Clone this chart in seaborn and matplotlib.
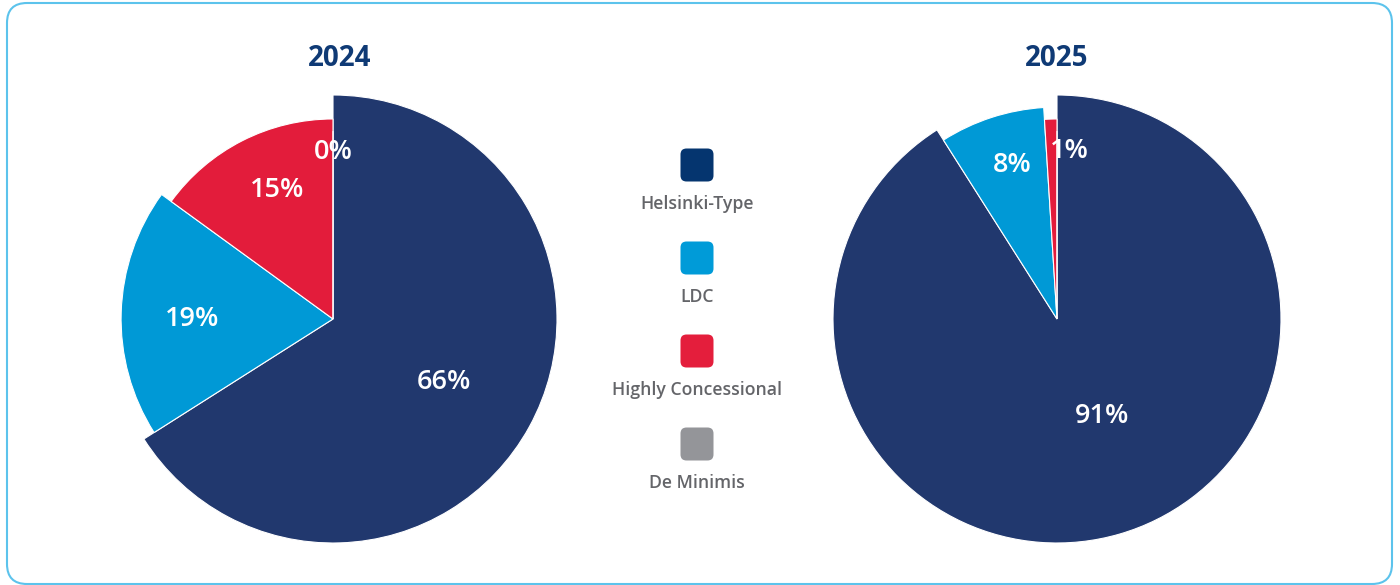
import matplotlib
matplotlib.use("Agg")
import numpy as np
import matplotlib.pyplot as plt
from matplotlib.patches import FancyBboxPatch
import seaborn as sns

# ---- data -------------------------------------------------------------
categories = ["Helsinki-Type", "LDC", "Highly Concessional", "De Minimis"]
years = ["2024", "2025"]
share_2024 = [66, 19, 15, 0]
share_2025 = [91, 8, 1, None]

# ---- style --------------------------------------------------------------
sns.set_theme(style="white")
plt.rcParams["font.family"] = ["Open Sans", "DejaVu Sans"]

slice_colors = ["#21386e", "#0099d6", "#e31c3b", "#939598"]
legend_colors = ["#05356f", "#009bd8", "#e41e3c", "#949599"]
title_color = "#0f3a75"
legend_text = "#646569"
frame_color = "#5cc3ec"

W, H = 1400, 585
R = 224                              # outer radius of the largest slice (px)
radius_steps = [1.0, 0.946, 0.893, 0.839]   # each later slice is drawn a bit shorter
pie_centers = [(333, 319), (1057, 319)]
title_x = [340, 1057]
# label placement: distance (fraction of R) and angular nudge (deg) per slice
label_dist = [[0.565, 0.63, 0.635, 0.755], [0.47, 0.725, 0.76, 0.75]]
label_nudge = [[0, -1, 4, 0], [-9, 2, 6, 0]]

fig = plt.figure(figsize=(14, 5.85), dpi=100)
ax = fig.add_axes([0, 0, 1, 1])


def yy(y_px):
    return H - y_px


for k, (year, shares) in enumerate(zip(years, [share_2024, share_2025])):
    cx, cy = pie_centers[k]
    vals = [0 if v is None else v for v in shares]
    wedges, _ = ax.pie(
        vals,
        colors=slice_colors,
        startangle=90,
        counterclock=False,
        center=(cx, yy(cy)),
        radius=R,
        wedgeprops=dict(edgecolor="white", linewidth=0.8),
    )
    for i, w in enumerate(wedges):
        w.set_radius(R * radius_steps[i])
        if shares[i] is None:
            continue
        mid = np.deg2rad((w.theta1 + w.theta2) / 2 - label_nudge[k][i])
        d = label_dist[k][i] * R
        ax.text(cx + d * np.cos(mid), yy(cy) + d * np.sin(mid) - 2,
                f"{shares[i]}%", color="white", fontsize=19.5,
                fontweight="semibold", ha="center", va="center", zorder=5)
    ax.text(title_x[k], yy(59), year, color=title_color, fontsize=20,
            fontweight="bold", ha="center", va="center")

# legend column between the two pies
for i, (name, col) in enumerate(zip(categories, legend_colors)):
    sy = 165 + i * 93
    ax.add_patch(FancyBboxPatch((697 - 16.5, yy(sy) - 16.5), 33, 33,
                                boxstyle="round,pad=0,rounding_size=6",
                                facecolor=col, edgecolor="none"))
    ax.text(697, yy(sy + 39), name, color=legend_text, fontsize=12.7,
            fontweight="semibold", ha="center", va="center")

# rounded outer frame
ax.add_patch(FancyBboxPatch((7, 1), 1385, 581,
                            boxstyle="round,pad=0,rounding_size=20",
                            facecolor="none", edgecolor=frame_color,
                            linewidth=1.5, clip_on=False))

ax.set_xlim(0, W)
ax.set_ylim(0, H)
ax.set_aspect("equal")
ax.axis("off")

fig.savefig("out.png", dpi=100, facecolor="white")
